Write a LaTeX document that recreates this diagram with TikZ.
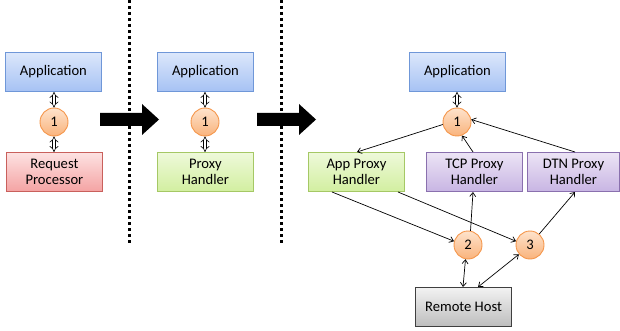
\documentclass[tikz,border=0pt]{standalone}
\usepackage{fontspec}
\setmainfont{Carlito}
\usetikzlibrary{arrows.meta}
\definecolor{appT}{HTML}{DCE7FB}\definecolor{appB}{HTML}{A6C2F4}\definecolor{appD}{HTML}{6F97D8}
\definecolor{redT}{HTML}{FDE2E2}\definecolor{redB}{HTML}{F4A3A3}\definecolor{redD}{HTML}{C9605C}
\definecolor{grnT}{HTML}{EEF9DA}\definecolor{grnB}{HTML}{D2EFA0}\definecolor{grnD}{HTML}{A5C865}
\definecolor{purT}{HTML}{ECE4F5}\definecolor{purB}{HTML}{C8B5E3}\definecolor{purD}{HTML}{8A70AE}
\definecolor{orgT}{HTML}{FEE3CC}\definecolor{orgB}{HTML}{F9B37C}\definecolor{orgD}{HTML}{F5964A}
\definecolor{gryT}{HTML}{F2F2F2}\definecolor{gryB}{HTML}{BDBDBD}\definecolor{gryD}{HTML}{3F3F3F}
\begin{document}
\begin{tikzpicture}[x=1pt,y=-1pt,
  font=\fontsize{14.6}{16.5}\selectfont,
  box/.style={draw, line width=0.9pt, minimum width=96pt, minimum height=39pt, inner sep=1pt, align=center, anchor=north west},
  appbox/.style={box, top color=appT, bottom color=appB, draw=appD},
  redbox/.style={box, top color=redT, bottom color=redB, draw=redD},
  grnbox/.style={box, top color=grnT, bottom color=grnB, draw=grnD},
  purbox/.style={box, top color=purT, bottom color=purB, draw=purD},
  grybox/.style={box, top color=gryT, bottom color=gryB, draw=gryD, line width=1.1pt},
  num/.style={circle, draw=orgD, line width=0.9pt, top color=orgT, bottom color=orgB, minimum size=28pt, inner sep=0pt},
  conn/.style={line width=0.7pt, -{Straight Barb[length=4pt,width=6pt]}},
  biconn/.style={line width=0.7pt, {Straight Barb[length=4pt,width=6pt]}-{Straight Barb[length=4pt,width=6pt]}},
  dbl/.style={double, double distance=2.6pt, line width=0.6pt, {Implies[length=3.5pt]}-{Implies[length=3.5pt]}},
  sep/.style={line width=3pt, dash pattern=on 3pt off 3pt},
  bigarrow/.style={fill=black}
]
\useasboundingbox (0,0) rectangle (620,331);
% separators
\coordinate (s1t) at (129,0); \coordinate (s1b) at (129,245);
\coordinate (s2t) at (281,0); \coordinate (s2b) at (281,245);
\draw[sep] (s1t) -- (s1b);
\draw[sep] (s2t) -- (s2b);
% big arrows
\fill[bigarrow] (100,113) -- (142,113) -- (142,104) -- (159,119.5) -- (142,135) -- (142,126) -- (100,126) -- cycle;
\fill[bigarrow] (257,113) -- (299,113) -- (299,104) -- (316,119.5) -- (299,135) -- (299,126) -- (257,126) -- cycle;
% left panel
\node[appbox] (appA) at (5,52) {Application};
\node[num] (nA) at (54,122) {1};
\node[redbox] (req) at (6,152) {Request\\Processor};
\draw[dbl] (appA.south -| nA) -- (nA.north);
\draw[dbl] (nA.south) -- (req.north -| nA);
% middle panel
\node[appbox] (appB) at (157,52) {Application};
\node[num] (nB) at (205,122) {1};
\node[grnbox] (prox) at (157,152) {Proxy\\Handler};
\draw[dbl] (appB.south -| nB) -- (nB.north);
\draw[dbl] (nB.south) -- (prox.north -| nB);
% right panel
\node[appbox] (appC) at (409,52) {Application};
\node[num] (nC) at (457,122) {1};
\node[grnbox] (appP) at (308,152) {App Proxy\\Handler};
\node[purbox] (tcp) at (426,152) {TCP Proxy\\Handler};
\node[purbox, minimum width=92pt] (dtn) at (527,152) {DTN Proxy\\Handler};
\node[num] (n2) at (468,245) {2};
\node[num] (n3) at (530,245) {3};
\node[grybox] (rh) at (415,287) {Remote Host};
\draw[dbl] (appC.south -| nC) -- (nC.north);
\coordinate (apT) at (357,152);
\draw[conn] (nC.190) -- (apT);
\coordinate (tcpT) at (473,152);
\draw[conn] (tcpT) -- (nC.290);
\coordinate (dtnT) at (575,152);
\draw[conn] (dtnT) -- (nC.10);
\coordinate (apB1) at (332,192);
\coordinate (apB2) at (398,192);
\draw[conn] (apB1) -- (n2.165);
\draw[conn] (apB2) -- (n3.165);
\coordinate (tcpB) at (473,192);
\coordinate (dtnB) at (575,192);
\draw[conn] (n2.80) -- (tcpB);
\draw[conn] (n3.50) -- (dtnB);
\coordinate (rh2) at (463,287);
\coordinate (rh3) at (478,287);
\draw[biconn] (n2.260) -- (rh2);
\draw[biconn] (n3.220) -- (rh3);
\end{tikzpicture}
\end{document}
